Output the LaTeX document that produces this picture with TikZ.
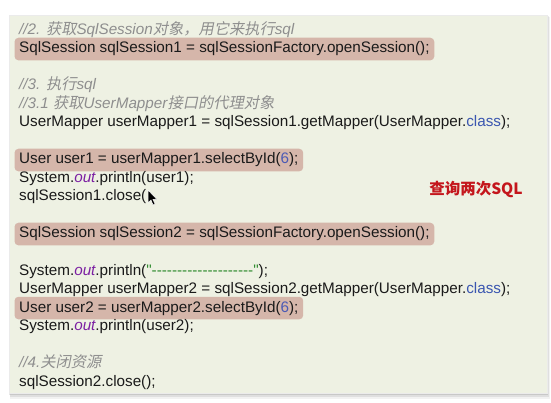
\documentclass[tikz,border=0pt]{standalone}
\usepackage{fontspec}
\setmainfont{Liberation Sans}[Ligatures=TeXOff]
\newfontfamily\cjk{Noto Sans CJK SC}
\newfontfamily\cjki[FakeSlant=0.2]{Noto Sans CJK SC}
\usetikzlibrary{fit,backgrounds}
\definecolor{panelbg}{HTML}{EEF1E3}
\definecolor{hl}{HTML}{D5B6AA}
\definecolor{cmt}{HTML}{8E8E8E}
\definecolor{kw}{HTML}{3A56B0}
\definecolor{num}{HTML}{4A5AB5}
\definecolor{purp}{HTML}{7B1FA2}
\definecolor{strg}{HTML}{2E8B2E}
\definecolor{redtxt}{HTML}{C4161C}
\definecolor{codetxt}{HTML}{1A1A1A}
\newcommand\mydashes{-{}-{}-{}-{}-{}-{}-{}-{}-{}-{}-{}-{}-{}-{}-{}-{}-{}-{}-{}-{}}
\begin{document}
\begin{tikzpicture}[x=1pt,y=-1pt,
  code/.style={anchor=base west, inner sep=0pt, text=codetxt, font=\fontsize{15.25}{18}\selectfont},
  comment/.style={anchor=base west, inner sep=0pt, text=cmt, font=\fontsize{15.25}{18}\selectfont\itshape},
  hlbox/.style={fill=hl, rounded corners=4pt, inner xsep=4.5pt, inner ysep=4pt},
  note/.style={text=redtxt, font=\fontsize{15.5}{17}\selectfont\cjk\bfseries, inner sep=0pt}]
\useasboundingbox (0,0) rectangle (551,403);
\begin{scope}[on background layer]
  \fill[white] (0,0) rectangle (551,403);
  \fill[black, opacity=0.05] (10,17) rectangle (550,399);
  \fill[black, opacity=0.08] (10,16) rectangle (549,397);
  \fill[black, opacity=0.10] (9,15) rectangle (548,395);
  \fill[panelbg, draw=black!8] (9,15) rectangle (547,393);
\end{scope}
\def\lx{19}
\node[comment] (l1) at (\lx,34.5) {//2. {\cjki 获取}SqlSession{\cjki 对象，用它来执行}sql};
\node[code] (l2) at (\lx,53) {SqlSession sqlSession1 = sqlSessionFactory.openSession();};
\node[comment] (l4) at (\lx,90) {//3. {\cjki 执行}sql};
\node[comment] (l5) at (\lx,108.5) {//3.1 {\cjki 获取}UserMapper{\cjki 接口的代理对象}};
\node[code] (l6) at (\lx,127) {UserMapper userMapper1 = sqlSession1.getMapper(UserMapper.{\color{kw}class});};
\node[code] (l8) at (\lx,164) {User user1 = userMapper1.selectById({\color{num}6});};
\node[code] (l9) at (\lx,182.5) {System.{\color{purp}\itshape out}.println(user1);};
\node[code] (l10) at (\lx,201) {sqlSession1.close(};
\node[code] (l12) at (\lx,238) {SqlSession sqlSession2 = sqlSessionFactory.openSession();};
\node[code] (l14) at (\lx,275) {System.{\color{purp}\itshape out}.println({\color{strg}"\mydashes"});};
\node[code] (l15) at (\lx,293.5) {UserMapper userMapper2 = sqlSession2.getMapper(UserMapper.{\color{kw}class});};
\node[code] (l16) at (\lx,312) {User user2 = userMapper2.selectById({\color{num}6});};
\node[code] (l17) at (\lx,330.5) {System.{\color{purp}\itshape out}.println(user2);};
\node[comment] (l19) at (\lx,367.5) {//4.{\cjki 关闭资源}};
\node[code] (l20) at (\lx,386) {sqlSession2.close();};
\node[note] (n) at (476,190) {查询两次SQL};
% mouse cursor
\fill[black, draw=white, line width=0.5pt] (148,190) -- (148,203) -- (151,200) -- (153,205) -- (155,204) -- (153,199.5) -- (157,199.5) -- cycle;
\begin{scope}[on background layer]
  \node[hlbox, fit=(l2)] (h2) {};
  \node[hlbox, fit=(l8)] (h8) {};
  \node[hlbox, fit=(l12)] (h12) {};
  \node[hlbox, fit=(l16)] (h16) {};
\end{scope}
\end{tikzpicture}
\end{document}
